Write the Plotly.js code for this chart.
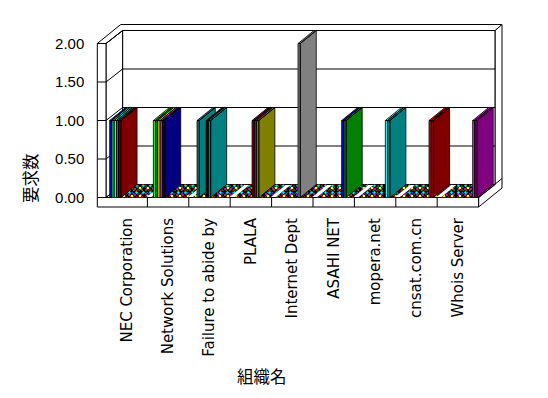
<!DOCTYPE html>
<html>
<head>
<meta charset="utf-8">
<script src="https://cdn.plot.ly/plotly-3.0.1.min.js"></script>
<style>html,body{margin:0;padding:0;background:#fff}</style>
</head>
<body>
<div id="chart" style="width:548px;height:398px"></div>
<script>
// ---------------- data ----------------
const categories = ['NEC Corporation', 'Network Solutions', 'Failure to abide by', 'PLALA',
  'Internet Dept', 'ASAHI NET', 'mopera.net', 'cnsat.com.cn', 'Whois Server'];
const yTickValues = [0, 0.5, 1, 1.5, 2];
const yTickText = ['0.00', '0.50', '1.00', '1.50', '2.00'];
const yTitle = '要求数';
const xTitle = '組織名';
const slotsPerCategory = 16;
// non-zero bars: category index, slot inside the cluster, value, colour
const barCategory = [0, 0, 0, 0, 0, 1, 1, 1, 1, 1, 2, 2, 2, 3, 3, 3, 4, 5, 5, 6, 6, 7, 7, 8, 8];
const barSlot     = [0, 1, 2, 3, 4, 1, 2, 3, 4, 5, 2, 6, 7, 8, 9, 10, 10, 11, 12, 12, 13, 13, 14, 14, 15];
const barValue    = [1, 1, 1, 1, 1, 1, 1, 1, 1, 1, 1, 1, 1, 1, 1, 1, 2, 1, 1, 1, 1, 1, 1, 1, 1];
const barColor    = ['#0000FF', '#00FF00', '#00FFFF', '#008080', '#800000',
  '#00FF00', '#008000', '#FFFF00', '#FF00FF', '#000080',
  '#008080', '#000000', '#008080',
  '#800000', '#800080', '#808000',
  '#808080',
  '#0000FF', '#008000',
  '#00FFFF', '#008080',
  '#FF0000', '#800000',
  '#FF00FF', '#800080'];
const floorDotColors = ['#FF0000', '#00FF00', '#4040FF', '#FF00FF', '#00FFFF', '#FFFF00'];

// ---------------- geometry (px -> data units) ----------------
const W = 548, H = 398;
const PX_CAT = 41.4, PX_UNIT = 77, OX = 106, OY = 197.5;
const nCat = categories.length;
const yMax = yTickValues[yTickValues.length - 1];
const dx = 16.6 / PX_CAT, dy = 13 / PX_UNIT;      // inner depth
const Dx = 23.4 / PX_CAT, Dy = 19 / PX_UNIT;      // outer depth (wall thickness)
const F = -8.7 / PX_CAT;                           // wall front thickness
const th = 9.5 / PX_UNIT;                          // floor slab thickness
const slotStart = 3.7 / PX_CAT, slotW = 2.27 / PX_CAT;
const bdx = 16 / PX_CAT, bdy = 13 / PX_UNIT;       // bar depth
const xRange = [-OX / PX_CAT, (W - OX) / PX_CAT];
const yRange = [(OY - H) / PX_UNIT, OY / PX_UNIT];

const pth = pts => 'M' + pts.map(p => p[0].toFixed(4) + ',' + p[1].toFixed(4)).join(' L') + ' Z';
const poly = pts => ({type: 'path', xref: 'x', yref: 'y', path: pth(pts), fillcolor: '#ffffff',
  line: {color: '#000000', width: 1}, layer: 'below'});
const seg = (x0, y0, x1, y1) => ({type: 'line', xref: 'x', yref: 'y', x0, y0, x1, y1,
  line: {color: '#000000', width: 1}, layer: 'below'});

const shapes = [];
// back wall
shapes.push(poly([[dx, dy], [nCat + dx, dy], [nCat + dx, yMax + dy], [dx, yMax + dy]]));
// left wall inner face
shapes.push(poly([[0, 0], [dx, dy], [dx, yMax + dy], [0, yMax]]));
// floor top
shapes.push(poly([[0, 0], [nCat, 0], [nCat + dx, dy], [dx, dy]]));
// top band of walls
shapes.push(poly([[F, yMax], [0, yMax], [dx, yMax + dy], [nCat + dx, yMax + dy],
  [nCat + Dx, yMax + Dy], [F + Dx, yMax + Dy]]));
// right side
shapes.push(poly([[nCat, 0], [nCat, -th], [nCat + Dx, Dy - th], [nCat + Dx, yMax + Dy],
  [nCat + dx, yMax + dy], [nCat + dx, dy]]));
shapes.push(seg(nCat, 0, nCat + Dx, Dy));
// front L face
shapes.push(poly([[F, yMax], [0, yMax], [0, 0], [nCat, 0], [nCat, -th], [F, -th]]));
// grid lines
yTickValues.forEach(v => {
  if (v > 0 && v < yMax) shapes.push(seg(dx, v + dy, nCat + dx, v + dy));
  shapes.push(seg(0, v, dx, v + dy));
  shapes.push(seg(F, v, 0, v));
});
// category separators on floor front
for (let i = 1; i < nCat; i++) shapes.push(seg(i, 0, i, -th));

// ---------------- traces ----------------
const traces = [];
// speckled floor made by the zero-height bars
function floorXY() {
  const xs = [], ys = [];
  for (let i = 0; i < nCat; i++) {
    const a = i + slotStart, b = i + slotStart + slotsPerCategory * slotW;
    xs.push(a, b, b + bdx, a + bdx, null);
    ys.push(0, 0, bdy, bdy, null);
  }
  return {xs, ys};
}
const fl = floorXY();
traces.push({type: 'scatter', mode: 'lines', x: fl.xs, y: fl.ys, fill: 'toself',
  fillcolor: '#000000', line: {width: 0}, hoverinfo: 'skip', showlegend: false});
floorDotColors.forEach((c, k) => {
  traces.push({type: 'scatter', mode: 'lines', x: fl.xs, y: fl.ys, fill: 'toself',
    fillcolor: 'rgba(0,0,0,0)',
    fillpattern: {shape: '.', fgcolor: c, bgcolor: 'rgba(0,0,0,0)', size: 3 + k, solidity: 0.09},
    line: {width: 0}, hoverinfo: 'skip', showlegend: false});
});
// bars
barCategory.forEach((ci, k) => {
  const f = ci + slotStart + barSlot[k] * slotW;
  const g = f + slotW;
  const v = barValue[k];
  const xs = [f, g, g, f, f, null,
              f, g, g + bdx, f + bdx, f, null,
              g, g + bdx, g + bdx, g, g];
  const ys = [0, 0, v, v, 0, null,
              v, v, v + bdy, v + bdy, v, null,
              0, bdy, v + bdy, v, 0];
  traces.push({type: 'scatter', mode: 'lines', x: xs, y: ys, fill: 'toself',
    fillcolor: barColor[k], line: {color: '#000000', width: 0.8},
    hoverinfo: 'skip', showlegend: false});
});

const layout = {
  width: W, height: H,
  margin: {l: 0, r: 0, t: 0, b: 0},
  paper_bgcolor: '#ffffff', plot_bgcolor: '#ffffff',
  showlegend: false,
  font: {family: '"Liberation Sans", Arial, sans-serif', size: 15, color: '#000000'},
  xaxis: {range: xRange, anchor: 'free', position: (H - OY - th * PX_UNIT) / H,
    tickvals: categories.map((_, i) => i + 0.5), ticktext: categories, tickangle: -90,
    ticks: '', showgrid: false, zeroline: false, showline: false, ticklabelstandoff: 7,
    tickfont: {family: '"DejaVu Sans", sans-serif', size: 15, color: '#000000'},
    fixedrange: true},
  yaxis: {range: yRange, anchor: 'free', position: (OX + F * PX_CAT) / W,
    tickvals: yTickValues, ticktext: yTickText,
    ticks: '', showgrid: false, zeroline: false, showline: false, ticklabelstandoff: 13,
    tickfont: {family: '"Liberation Sans", Arial, sans-serif', size: 15, color: '#000000'},
    fixedrange: true},
  shapes: shapes,
  annotations: [
    {text: yTitle, xref: 'paper', yref: 'paper', x: 30 / W, y: 1 - 178 / H, showarrow: false,
      xanchor: 'center', yanchor: 'middle', textangle: -90,
      font: {family: '"Noto Sans CJK JP", sans-serif', size: 16.5, color: '#000000'}},
    {text: xTitle, xref: 'paper', yref: 'paper', x: 262 / W, y: 1 - 376 / H, showarrow: false,
      xanchor: 'center', yanchor: 'middle',
      font: {family: '"Noto Sans CJK JP", sans-serif', size: 16.5, color: '#000000'}}
  ]
};
Plotly.newPlot('chart', traces, layout, {staticPlot: true, displayModeBar: false});
</script>
</body>
</html>
